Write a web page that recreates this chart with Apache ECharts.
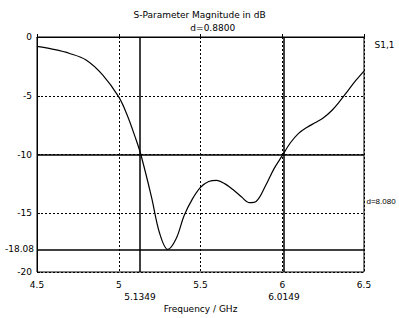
<!DOCTYPE html>
<html>
<head>
<meta charset="utf-8">
<script src="https://cdn.jsdelivr.net/npm/echarts@6/dist/echarts.min.js"></script>
<style>
  html, body { margin: 0; padding: 0; background: #fff; }
  #chart { width: 399px; height: 318px; }
</style>
</head>
<body>
<div id="chart"></div>
<script>
var freqs = [4.5, 4.6, 4.7, 4.8, 4.9, 5.0, 5.05, 5.1, 5.135, 5.2, 5.25, 5.3, 5.35, 5.4, 5.45, 5.5,
  5.55, 5.6, 5.65, 5.7, 5.75, 5.8, 5.84, 5.9, 5.95, 6.0, 6.05, 6.1, 6.15, 6.2, 6.25, 6.3,
  6.35, 6.4, 6.45, 6.5];
var s11 = [-0.8, -1.05, -1.4, -1.95, -3.2, -5.1, -6.6, -8.5, -10, -13.6, -16.7, -18.08, -17.2, -15.2, -13.8, -12.8,
  -12.3, -12.2, -12.5, -13.0, -13.6, -14.1, -14.0, -12.6, -11.2, -10.1, -9.0, -8.2, -7.7, -7.3, -6.9, -6.3,
  -5.5, -4.6, -3.7, -2.9];
var markerX = [5.1349, 6.0149];
var markerY = [-10, -18.08];

var font = 'DejaVu Sans';
var txt = { color: '#000', fontFamily: font, fontSize: 9 };
var chart = echarts.init(document.getElementById('chart'), null, { renderer: 'svg' });
var pts = freqs.map(function(f, i) { return [f, s11[i]]; });

// invisible anchor points that only carry a text label
function tag(coord, pos, dist, text, size) {
  return {
    coord: coord, symbol: 'circle', symbolSize: 1,
    itemStyle: { color: 'rgba(0,0,0,0)' },
    label: Object.assign({ show: true, position: pos, distance: dist, formatter: text }, txt,
      size ? { fontSize: size, fontFamily: 'Liberation Sans' } : {})
  };
}

chart.setOption({
  animation: false,
  title: {
    text: 'S-Parameter Magnitude in dB',
    left: 'center', top: 5,
    textStyle: { color: '#000', fontFamily: font, fontSize: 9, fontWeight: 'normal' }
  },
  grid: { left: 37, right: 35, top: 37, bottom: 41, show: true, borderColor: '#000', borderWidth: 1 },
  xAxis: {
    type: 'value', min: 4.5, max: 6.5, interval: 0.5,
    name: 'Frequency / GHz', nameLocation: 'middle', nameGap: 32,
    nameTextStyle: txt,
    axisLine: { lineStyle: { color: '#000' } },
    axisTick: { inside: true, length: 3, lineStyle: { color: '#000' } },
    axisLabel: Object.assign({ margin: 8 }, txt),
    splitLine: { lineStyle: { color: '#000', type: [2, 2] } }
  },
  yAxis: {
    type: 'value', min: -20, max: 0, interval: 5,
    axisLine: { show: true, lineStyle: { color: '#000' } },
    axisTick: { show: true, inside: true, length: 3, lineStyle: { color: '#000' } },
    axisLabel: Object.assign({ margin: 5 }, txt),
    splitLine: { lineStyle: { color: '#000', type: [2, 2] } }
  },
  series: [{
    type: 'line',
    data: pts,
    smooth: 0.35,
    symbol: 'none',
    lineStyle: { color: '#000', width: 1.2 },
    markLine: {
      silent: true, symbol: 'none',
      lineStyle: { color: '#000', type: 'solid', width: 1.5 },
      data: [
        { xAxis: markerX[0], label: Object.assign({ position: 'start', distance: 20, formatter: String(markerX[0]) }, txt) },
        { xAxis: markerX[1], label: Object.assign({ position: 'start', distance: 20, formatter: String(markerX[1]) }, txt) },
        { yAxis: markerY[0], label: { show: false } },
        { yAxis: markerY[1], label: Object.assign({ position: 'start', distance: 3, formatter: String(markerY[1]) }, txt) }
      ]
    },
    markPoint: {
      silent: true,
      data: [
        tag([(markerX[0] + markerX[1]) / 2, 0], 'top', 4, 'd=' + (markerX[1] - markerX[0]).toFixed(4)),
        tag([6.5, (markerY[0] + markerY[1]) / 2], 'right', 2, 'd=' + (markerY[0] - markerY[1]).toFixed(3), 8),
        tag([6.5, -0.7], 'right', 10, 'S1,1')
      ]
    }
  }]
});
window.addEventListener('resize', function() { chart.resize(); });
</script>
</body>
</html>
